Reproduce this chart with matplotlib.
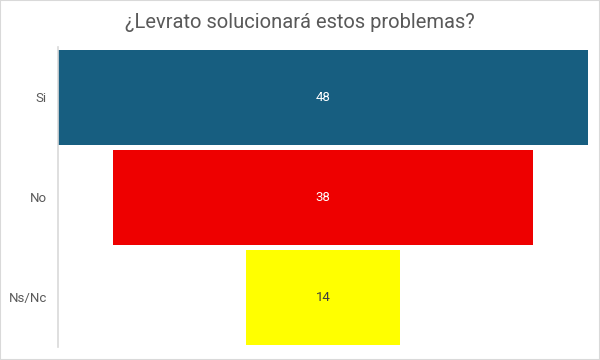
import matplotlib
matplotlib.use("Agg")
import matplotlib.pyplot as plt
from matplotlib.patches import Rectangle

categories = ["Si", "No", "Ns/Nc"]
values = [48, 38, 14]
colors = ["#175e80", "#ee0000", "#ffff00"]
label_colors = ["white", "white", "#404040"]

plt.rcParams['font.family'] = ['Roboto', 'DejaVu Sans']

fig = plt.figure(figsize=(6, 3.6), dpi=100)
fig.patches.append(Rectangle((0, 0), 1, 1, transform=fig.transFigure, fill=False,
                             edgecolor="#d9d9d9", linewidth=1.5))
ax = fig.add_axes([58/600, 1 - 347/360, 530/600, 300/360])

vmax = max(values)
y = list(range(len(categories)))
lefts = [-v / 2 for v in values]
ax.barh(y, values, left=lefts, height=0.95, color=colors)
for yi, v, lc in zip(y, values, label_colors):
    ax.text(0, yi, str(v), ha="center", va="center", color=lc, fontsize=9.5)

ax.set_xlim(-vmax / 2, vmax / 2)
ax.set_ylim(len(categories) - 0.5, -0.5)
ax.set_yticks(y)
ax.set_yticklabels(categories, fontsize=9.5, color="#595959")
ax.tick_params(axis="y", length=0, pad=8)
ax.set_xticks([])
for s in ["top", "right", "bottom"]:
    ax.spines[s].set_visible(False)
ax.spines["left"].set_color("#d9d9d9")
ax.spines["left"].set_linewidth(1.2)

fig.text(0.5, 1 - 22/360, "¿Levrato solucionará estos problemas?", ha="center", va="center",
         fontsize=14.5, color="#595959")

fig.savefig("out.png", dpi=100)
